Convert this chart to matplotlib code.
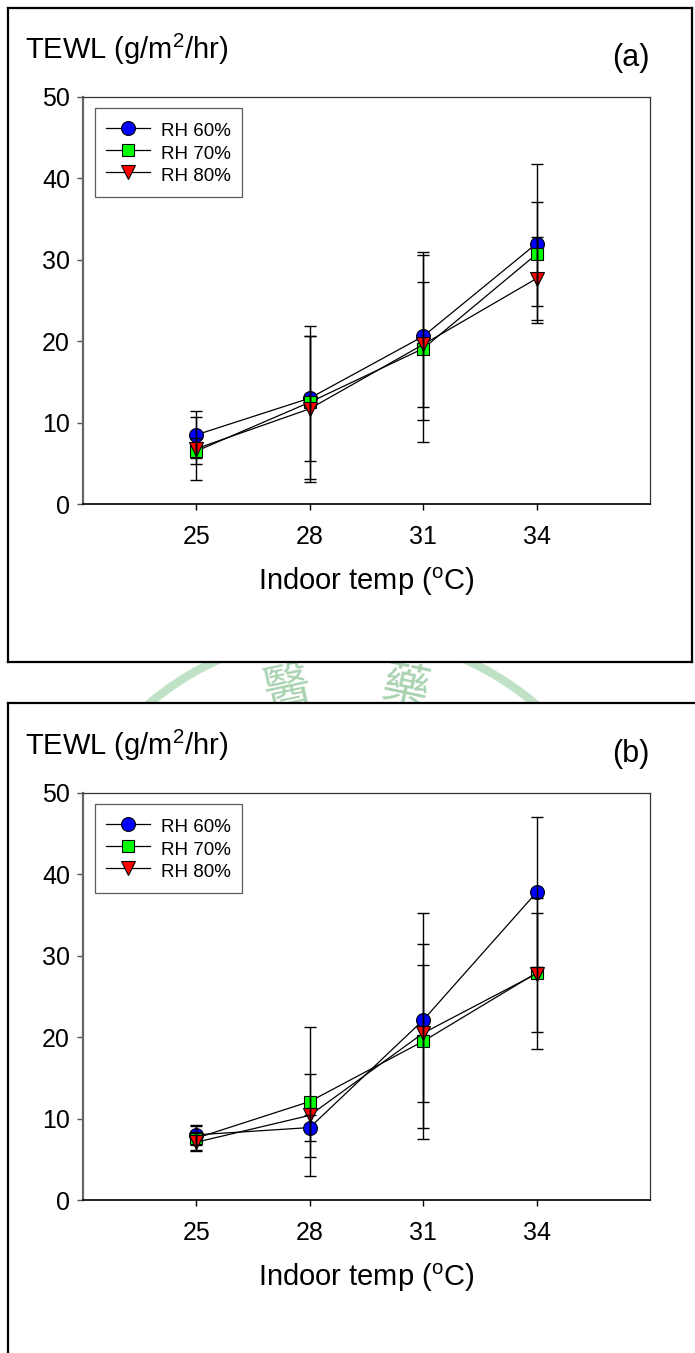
import matplotlib
matplotlib.use("Agg")
import matplotlib.pyplot as plt
from matplotlib.patches import Circle

plt.rcParams["font.family"] = ["Liberation Sans", "DejaVu Sans"]
plt.rcParams["mathtext.fontset"] = "custom"
plt.rcParams["mathtext.rm"] = "Liberation Sans"
plt.rcParams["mathtext.it"] = "Liberation Sans:italic"
plt.rcParams["mathtext.bf"] = "Liberation Sans:bold"

# data
temps = [25, 28, 31, 34]
series_labels = ["RH 60%", "RH 70%", "RH 80%"]

a_rh60 = [8.5, 13.0, 20.6, 32.0]
a_rh60_err = [2.9, 7.7, 10.3, 9.8]
a_rh70 = [6.5, 12.5, 19.1, 30.7]
a_rh70_err = [1.6, 9.4, 11.5, 6.4]
a_rh80 = [6.8, 11.7, 19.6, 27.7]
a_rh80_err = [3.9, 9.0, 7.7, 5.1]

b_rh60 = [8.0, 8.9, 22.1, 37.8]
b_rh60_err = [1.2, 1.6, 13.2, 9.2]
b_rh70 = [7.6, 12.1, 19.5, 27.9]
b_rh70_err = [1.5, 9.1, 12.0, 7.3]
b_rh80 = [7.1, 10.4, 20.5, 27.8]
b_rh80_err = [1.1, 5.1, 8.4, 9.3]

y_ticks = [0, 10, 20, 30, 40, 50]

W, H = 695, 1353
fig = plt.figure(figsize=(W / 100, H / 100), dpi=100)


def box(l, t, r, b):
    return [l / W, 1 - b / H, (r - l) / W, (b - t) / H]


# faint seal watermark showing between the two panels
wm = fig.add_axes([0, 0, 1, 1], zorder=-2)
wm.set_xlim(0, W)
wm.set_ylim(H, 0)
wm.axis("off")
wm.add_patch(Circle((342, 932), 299, fill=False, lw=6, ec="#bfe1c5"))
wm.text(288, 688, "醫", fontsize=34, color="#a9d2b0", rotation=12,
        ha="center", va="center", family=["Noto Sans CJK TC"])
wm.text(405, 688, "藥", fontsize=34, color="#a9d2b0", rotation=-12,
        ha="center", va="center", family=["Noto Sans CJK TC"])

styles = [
    dict(marker="o", mfc="#0000ff", ms=10.0),
    dict(marker="s", mfc="#00ff00", ms=8.3),
    dict(marker="v", mfc="#ff0000", ms=10.5),
]


def panel(offset, frame, tag, data):
    # outer frame of the panel
    bg = fig.add_axes(box(*frame), zorder=-1)
    bg.set_xticks([])
    bg.set_yticks([])
    bg.set_facecolor("white")
    for s in bg.spines.values():
        s.set_linewidth(1.6)
        s.set_color("black")

    ax = fig.add_axes(box(83, 97 + offset, 650, 504 + offset), zorder=1)
    ax.set_facecolor("none")
    for (y, err), st, lab in zip(data, styles, series_labels):
        ax.plot(temps, y, color="black", lw=0.9, mec="black", mew=0.8,
                label=lab, zorder=2, **st)
    for y, err in data:
        ax.errorbar(temps, y, yerr=err, fmt="none", ecolor="black",
                    elinewidth=1.0, capsize=4.3, capthick=1.0, zorder=3)

    ax.set_xlim(22, 37)
    ax.set_ylim(0, 50)
    ax.set_xticks(temps)
    ax.set_xticklabels([str(t) for t in temps])
    ax.set_yticks(y_ticks)
    ax.tick_params(axis="x", direction="out", length=4.3, width=1.0,
                   labelsize=18, pad=11)
    ax.tick_params(axis="y", direction="out", length=4.3, width=1.0,
                   labelsize=18, pad=5, color="#555555")
    ax.spines["left"].set_color("#666666")
    ax.spines["left"].set_linewidth(1.6)
    ax.spines["bottom"].set_linewidth(1.2)
    ax.spines["top"].set_linewidth(0.9)
    ax.spines["right"].set_linewidth(0.9)
    ax.spines["top"].set_color("#333333")
    ax.spines["right"].set_color("#333333")

    leg = ax.legend(loc="upper left", bbox_to_anchor=(12 / 567, 1 - 11 / 407),
                    frameon=True, fancybox=False, fontsize=13.5,
                    handlelength=2.35, handletextpad=0.55, labelspacing=0.05,
                    handleheight=1.38, borderpad=0.6, borderaxespad=0)
    leg.get_frame().set_edgecolor("#333333")
    leg.get_frame().set_linewidth(0.9)

    fig.text(25 / W, 1 - (59 + offset) / H, r"TEWL (g/m$^2$/hr)",
             fontsize=21, ha="left", va="baseline")
    fig.text(650 / W, 1 - (66 + offset) / H, tag, fontsize=22,
             ha="right", va="baseline")
    fig.text(366 / W, 1 - (582 + offset) / H, r"Indoor temp ($^\mathrm{o}$C)",
             fontsize=21, ha="center", va="center")
    return ax


panel(0, (8, 8, 692, 662), "(a)",
      [(a_rh60, a_rh60_err), (a_rh70, a_rh70_err), (a_rh80, a_rh80_err)])
panel(696, (8, 703, 720, 1400), "(b)",
      [(b_rh60, b_rh60_err), (b_rh70, b_rh70_err), (b_rh80, b_rh80_err)])

fig.savefig("out.png", dpi=100)
